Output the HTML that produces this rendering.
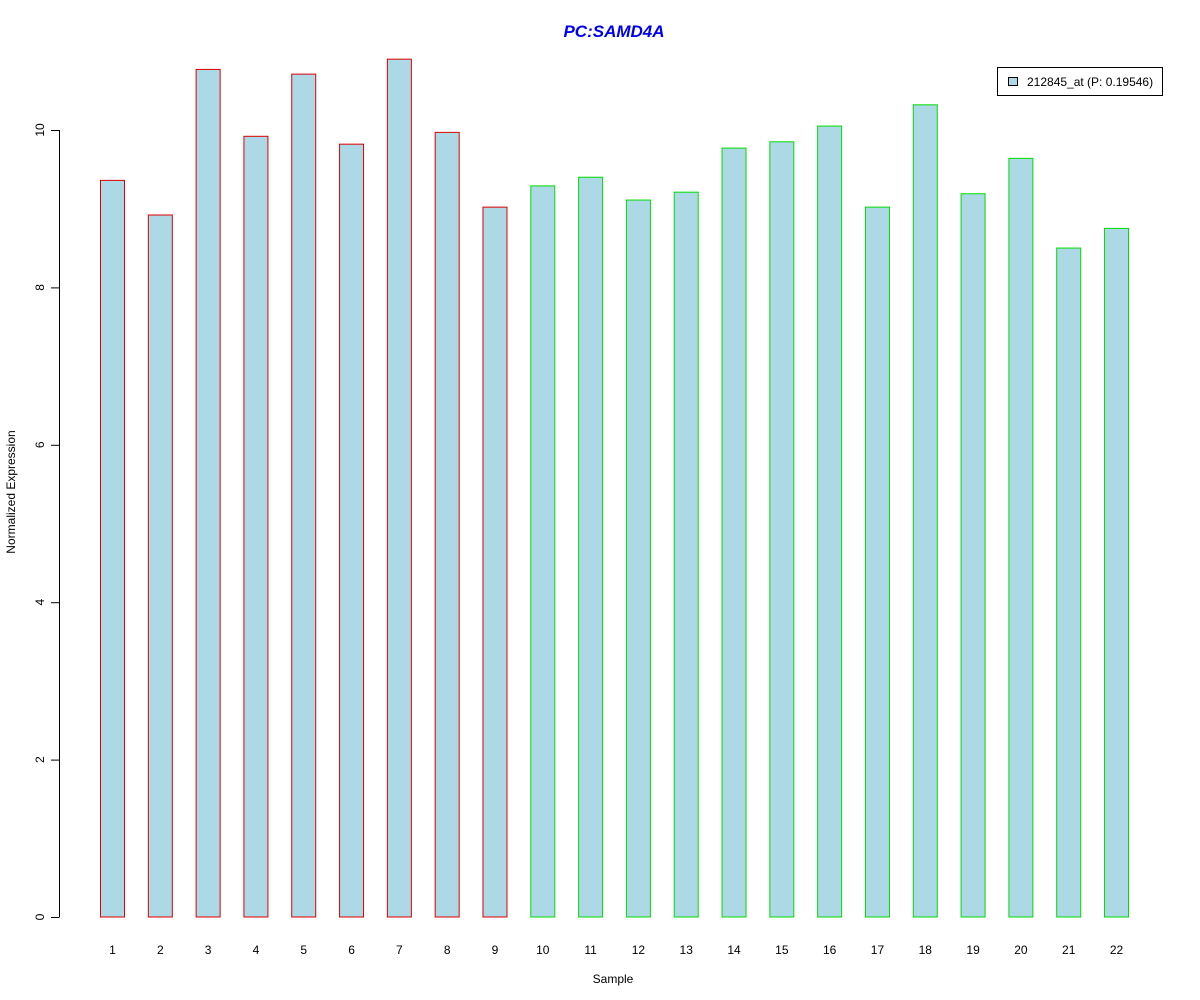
<!DOCTYPE html>
<html><head><meta charset="utf-8"><style>
html,body{margin:0;padding:0;background:#fff;}
svg{display:block;font-family:"Liberation Sans",Arial,sans-serif;}
</style></head><body>
<svg id="chart" width="1200" height="1000" viewBox="0 0 1200 1000" xmlns="http://www.w3.org/2000/svg">
<text x="614" y="37" text-anchor="middle" font-size="17" font-weight="bold" font-style="italic" fill="#0000ee">PC:SAMD4A</text>
<text x="613" y="983" text-anchor="middle" font-size="12">Sample</text>
<text transform="translate(15,492) rotate(-90)" text-anchor="middle" font-size="12">Normalized Expression</text>
<g id="yaxis"></g>
<g id="bars"></g>
<g id="xlabels"></g>
<g>
<rect x="997.5" y="67.5" width="165" height="28" fill="#fff" stroke="#000"/>
<rect x="1008.5" y="77.5" width="9" height="8" fill="#add8e6" stroke="#000"/>
<text x="1027" y="86" font-size="12">212845_at (P: 0.19546)</text>
</g>
</svg>
<script>
const categories = ["1","2","3","4","5","6","7","8","9","10","11","12","13","14","15","16","17","18","19","20","21","22"];
const values = [9.36,8.92,10.77,9.92,10.71,9.82,10.90,9.97,9.02,9.29,9.40,9.11,9.21,9.77,9.85,10.05,9.02,10.32,9.19,9.64,8.50,8.75];
const groups = ["A","A","A","A","A","A","A","A","A","B","B","B","B","B","B","B","B","B","B","B","B","B"];
const yTicks = [0,2,4,6,8,10];
const NS="http://www.w3.org/2000/svg";
const y = v => 917 - v*78.7;
const x = i => 112.5 + i*47.81;
const bw = 24;
const ya = document.getElementById('yaxis');
function mk(tag, attrs, parent){const e=document.createElementNS(NS,tag);for(const k in attrs)e.setAttribute(k,attrs[k]);parent.appendChild(e);return e;}
mk('line',{x1:59.5,x2:59.5,y1:y(0),y2:y(10),stroke:'#000'},ya);
yTicks.forEach(t=>{
  const l=mk('line',{x1:51,x2:59.5,y1:y(t)+0.5,y2:y(t)+0.5,stroke:'#000'},ya);
  
  
  const tx=mk('text',{transform:`translate(44,${y(t)}) rotate(-90)`,'text-anchor':'middle','font-size':12},ya);
  tx.textContent=t;
  
  
});
const bg=document.getElementById('bars'), xl=document.getElementById('xlabels');
values.forEach((v,i)=>{
  const r=mk('rect',{x:x(i)-bw/2,y:y(v),width:bw,height:y(0)-y(v),fill:'#add8e6',stroke:groups[i]==='A'?'#dd0000':'#00dd00','stroke-width':1},bg);
  
  
  const t=mk('text',{x:x(i),y:954,'text-anchor':'middle','font-size':12},xl);
  t.textContent=categories[i];
  
  
});
</script>
</body></html>
